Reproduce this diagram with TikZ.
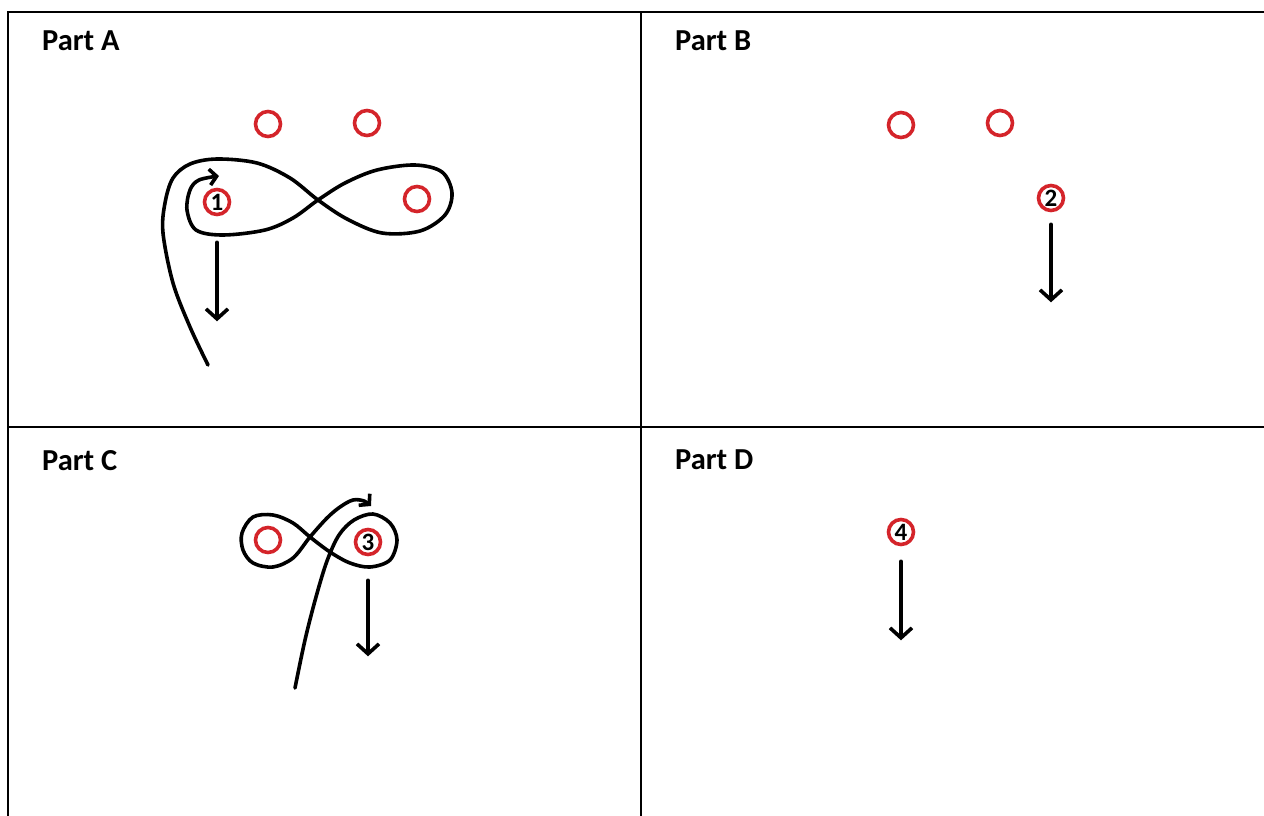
\documentclass[tikz,border=0pt]{standalone}
\usepackage{fontspec}
\setmainfont{Carlito}
\usetikzlibrary{arrows.meta}
\definecolor{pen}{RGB}{212,36,42}
\begin{document}
\begin{tikzpicture}[x=1pt,y=-1pt,
  ring/.style={circle, draw=pen, line width=3.6pt, minimum size=25pt, inner sep=0pt, font=\fontsize{25}{25}\selectfont\bfseries},
  stroke/.style={line width=3.6pt, line cap=round, line join=round},
  tip/.style={-{Straight Barb[length=10pt,width=22pt]}},
  smalltip/.style={-{Straight Barb[length=7pt,width=16pt]}},
  title/.style={anchor=base west, inner sep=0pt, font=\fontsize{30.5}{30.5}\selectfont\bfseries},
  rule/.style={line width=2pt}]
\useasboundingbox (0,0) rectangle (1264,816);
% table grid
\draw[rule] (8,816) -- (8,12) -- (1264,12);
\draw[rule] (641,12) -- (641,816);
\draw[rule] (8,427) -- (1264,427);
% titles
\node[title] (ta) at (42,51) {Part A};
\node[title] (tb) at (675,51) {Part B};
\node[title] (tc) at (42,470) {Part C};
\node[title] (td) at (675,469) {Part D};
% Part A
\node[ring] (a1) at (268,124) {};
\node[ring] (a2) at (367,123) {};
\node[ring] (a3) at (417,199) {};
\node[ring] (n1) at (217,202) {1};
\draw[stroke,smalltip] plot[smooth, tension=0.55] coordinates {
 (208,365) (190,327) (173,283) (163,233) (165,203) (173,178) (190,164) (217,159)
 (257,163) (290,178) (318,200) (347,219) (382,233) (420,231) (445,215) (452,193)
 (442,172) (415,165) (377,170) (345,183) (318,200) (293,218) (265,230) (223,235) (196,230)
 (187,210) (190,190) (199,180) (219,176)};
\draw[stroke,tip] ([yshift=-26pt]n1.south) -- ++(0,79);
% Part B
\node[ring] (b1) at (901,125) {};
\node[ring] (b2) at (1000,123) {};
\node[ring] (n2) at (1051,198) {2};
\draw[stroke,tip] ([yshift=-12pt]n2.south) -- ++(0,78);
% Part C
\node[ring] (c1) at (268,540) {};
\node[ring] (n3) at (368,542) {3};
\draw[stroke,smalltip] plot[smooth, tension=0.55] coordinates {
 (295,688) (305,640) (316,597) (327,561) (339,535) (354,520) (373,514) (390,523)
 (397,540) (390,560) (370,567) (350,563) (330,552) (310,537) (293,523) (273,515)
 (253,517) (242,533) (243,550) (253,563) (273,567) (293,558) (310,537) (327,518)
 (340,507) (353,500) (364,501) (371,506)};
\draw[stroke,tip] ([yshift=-24pt]n3.south) -- ++(0,76);
% Part D
\node[ring] (n4) at (901,532) {4};
\draw[stroke,tip] ([yshift=-15pt]n4.south) -- ++(0,79);
\end{tikzpicture}
\end{document}
